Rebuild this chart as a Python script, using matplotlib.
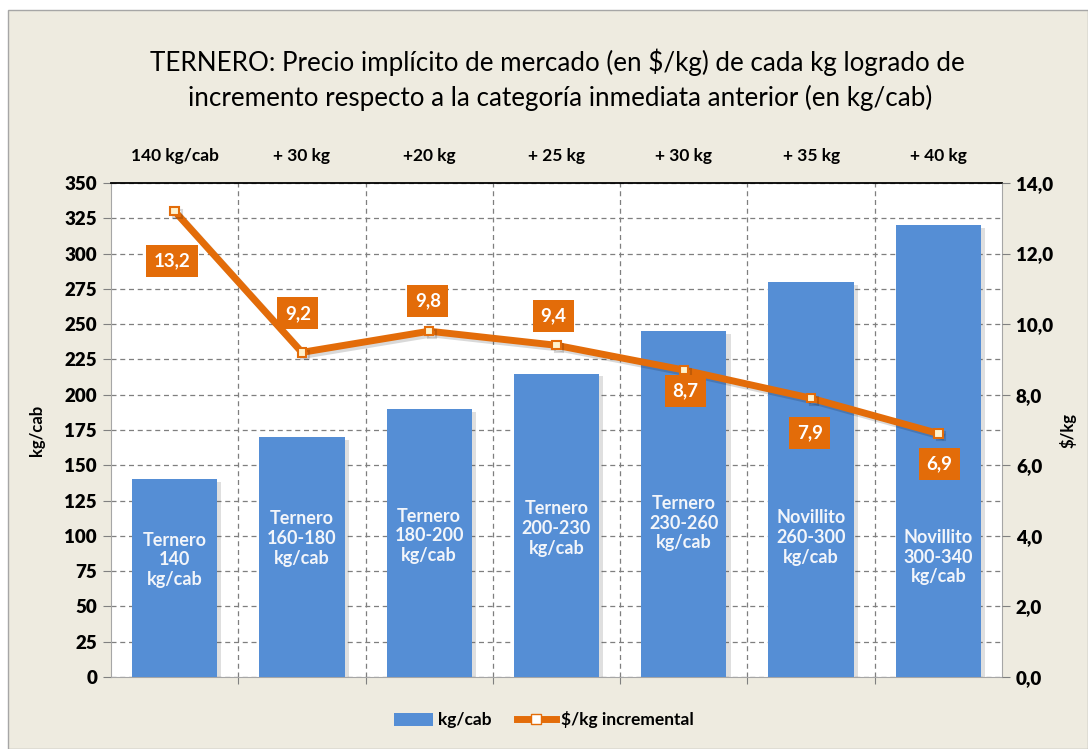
import matplotlib
matplotlib.use("Agg")
import matplotlib.pyplot as plt
import matplotlib.patheffects as pe
from matplotlib.lines import Line2D
from matplotlib.patches import Patch, Rectangle
import numpy as np

# data
categorias = ["Ternero\n140\nkg/cab", "Ternero\n160-180\nkg/cab", "Ternero\n180-200\nkg/cab",
              "Ternero\n200-230\nkg/cab", "Ternero\n230-260\nkg/cab", "Novillito\n260-300\nkg/cab",
              "Novillito\n300-340\nkg/cab"]
incrementos = ["140 kg/cab", "+ 30 kg", "+20 kg", "+ 25 kg", "+ 30 kg", "+ 35 kg", "+ 40 kg"]
kg_cab = [140, 170, 190, 215, 245, 280, 320]
precio_kg = [13.2, 9.2, 9.8, 9.4, 8.7, 7.9, 6.9]

# label placement (styling only)
bar_text_y = [83, 98, 100, 105, 109, 99, 85]
label_offsets = [(-2, -36), (-3, 28), (-1, 22), (-2, 21), (1, -15), (-1, -25), (1, -22)]

BLUE = "#558ED5"
ORANGE = "#E36C09"
BG = "#EEEBE0"
FONT = "Lato"

fig = plt.figure(figsize=(10.88, 7.49), dpi=100, facecolor="white")
fig.patches.append(Rectangle((8 / 1088, 0), 1 - 8 / 1088, 1 - 10 / 749, transform=fig.transFigure,
                             facecolor=BG, edgecolor="#A6A6A6", lw=1, zorder=-10))

ax = fig.add_axes([111 / 1088, 1 - 677 / 749, (1002 - 111) / 1088, (677 - 183) / 749])
ax.set_facecolor("white")
x = np.arange(len(kg_cab))

bars = ax.bar(x, kg_cab, width=0.67, color=BLUE, zorder=3)
for b in bars:
    b.set_path_effects([pe.SimplePatchShadow(offset=(3, -2), alpha=0.18, shadow_rgbFace="#505050"),
                        pe.Normal()])
for xi, yi, t in zip(x, bar_text_y, categorias):
    ax.text(xi, yi, t, ha="center", va="center", color="#F2F5FA", fontsize=13,
            fontweight="bold", family=FONT, linespacing=1.2, zorder=5)

ax.set_xlim(-0.5, len(kg_cab) - 0.5)
ax.set_ylim(0, 350)
ax.set_yticks(np.arange(0, 351, 25))
ax.set_xticks(np.arange(0.5, len(kg_cab) - 0.5, 1), minor=False)
ax.set_xticklabels([])
ax.tick_params(axis="x", length=5, color="#808080", direction="out")
ax.tick_params(axis="y", length=6, color="#808080", labelsize=13.5, pad=4)
for lab in ax.get_yticklabels():
    lab.set_fontweight("heavy")
    lab.set_family(FONT)
ax.grid(True, axis="both", color="#7F7F7F", linestyle=(0, (4, 3)), linewidth=0.9, zorder=0)
ax.set_axisbelow(True)
for s in ["left", "right", "bottom"]:
    ax.spines[s].set_color("#A6A6A6")
ax.spines["top"].set_color("black")
ax.spines["top"].set_linewidth(1.3)
ax.set_ylabel("kg/cab", fontsize=12, fontweight="bold", family=FONT, labelpad=14)

# top increment labels
for xi, t in zip(x, incrementos):
    ax.text(xi, 1.055, t, transform=ax.get_xaxis_transform(), ha="center", va="center",
            fontsize=12.5, fontweight="bold", family=FONT)

ax2 = ax.twinx()
ax2.set_ylim(0, 14)
ax2.set_yticks(np.arange(0, 14.1, 2))
ax2.set_yticklabels([f"{v:.1f}".replace(".", ",") for v in np.arange(0, 14.1, 2)])
ax2.tick_params(axis="y", length=6, color="#808080", labelsize=13.5, pad=4)
for lab in ax2.get_yticklabels():
    lab.set_fontweight("heavy")
    lab.set_family(FONT)
for s in ax2.spines.values():
    s.set_visible(False)
ax2.set_ylabel("$/kg", fontsize=12, fontweight="bold", family=FONT, labelpad=5)

ax2.plot(x, precio_kg, color=ORANGE, lw=5, marker="s", markersize=6, markerfacecolor="#FFF2CC",
         markeredgecolor=ORANGE, markeredgewidth=1.5, zorder=6,
         path_effects=[pe.SimpleLineShadow(offset=(2, -2), alpha=0.15), pe.Normal()])
for xi, v, off in zip(x, precio_kg, label_offsets):
    ax2.annotate(f"{v:.1f}".replace(".", ","), (xi, v), xytext=off, textcoords="offset points",
                 ha="center", va="center", color="white", fontsize=13.5, fontweight="bold",
                 family=FONT, zorder=7,
                 bbox=dict(boxstyle="square,pad=0.4", facecolor=ORANGE, edgecolor="none"))

fig.text(557 / 1088, 1 - 62 / 749, "TERNERO: Precio implícito de mercado (en $/kg) de cada kg logrado de",
         ha="center", va="center", fontsize=18.7, family=FONT)
fig.text(560 / 1088, 1 - 98 / 749, "incremento respecto a la categoría inmediata anterior (en kg/cab)",
         ha="center", va="center", fontsize=18.7, family=FONT)

handles = [Patch(facecolor=BLUE, label="kg/cab"),
           Line2D([0], [0], color=ORANGE, lw=5, marker="s", markersize=7, markerfacecolor="white",
                  markeredgecolor=ORANGE, label="$/kg incremental")]
leg = fig.legend(handles=handles, loc="center", bbox_to_anchor=(0.5, 1 - 720 / 749), ncol=2,
                 frameon=False, prop={"family": FONT, "weight": "bold", "size": 12.5},
                 handlelength=2.2, columnspacing=1.5, handletextpad=0.3)

fig.savefig("out.png", dpi=100, facecolor=fig.get_facecolor())
